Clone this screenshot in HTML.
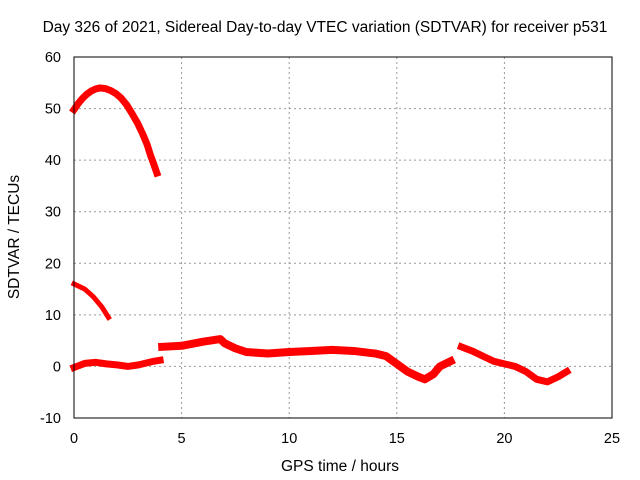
<!DOCTYPE html>
<html><head><meta charset="utf-8"><style>
body{margin:0;background:#fff}
svg{display:block;font-family:"Liberation Sans",sans-serif}
</style></head><body>
<svg id="c" width="640" height="480">
<rect width="640" height="480" fill="#fff"/>
<text x="325" y="32" font-size="15.5" text-anchor="middle">Day 326 of 2021, Sidereal Day-to-day VTEC variation (SDTVAR) for receiver p531</text>
<text x="340" y="471" font-size="15.5" text-anchor="middle">GPS time / hours</text>
<text x="19" y="237" font-size="15.5" text-anchor="middle" transform="rotate(-90 19 237)">SDTVAR / TECUs</text>
<g id="grid"></g><g id="marks"></g>
<rect x="74" y="57" width="538" height="361" fill="none" stroke="#000"/>
</svg>
<script>
const xTicks=[0,5,10,15,20,25];
const yTicks=[-10,0,10,20,30,40,50,60];
const arcT=[0,0.2,0.4,0.6,0.8,1.0,1.2,1.45,1.7,1.95,2.2,2.45,2.7,2.95,3.2,3.4,3.55,3.7,3.85];
const arcV=[49.8,51,52,52.8,53.4,53.8,54,53.9,53.5,52.9,52,50.7,49,47.2,45,43,41,39.3,37.5];
const decT=[0,0.5,0.9,1.3,1.6];
const decV=[16,15,13.5,11.5,9.5];
const lowT=[0,0.5,1,1.5,2,2.5,3,3.7,4];
const lowV=[-0.2,0.6,0.8,0.5,0.3,0,0.3,1,1.2];
const midT=[4.1,5,6,6.8,7,7.5,8,9,10,11,12,13,14,14.5,15,15.5,16,16.3,16.7,17,17.5];
const midV=[3.8,4,4.8,5.3,4.5,3.5,2.8,2.5,2.8,3,3.2,3,2.5,2,0.5,-1,-2,-2.5,-1.5,0,1];
const lateT=[18,18.5,19,19.5,20,20.5,21,21.5,22,22.5,22.9];
const lateV=[3.8,3,2,1,0.5,0,-1,-2.5,-3,-2,-1];
const X=t=>74+t*538/25, Y=v=>418-(v+10)*361/70;
const ns='http://www.w3.org/2000/svg';
const g=document.getElementById('grid'), m=document.getElementById('marks');
function el(tag,a,p){const e=document.createElementNS(ns,tag);for(const k in a)e.setAttribute(k,a[k]);p.appendChild(e);return e;}
xTicks.forEach(t=>{
 if(t>0&&t<25){const l=el('line',{x1:X(t),x2:X(t),y1:57,y2:418,stroke:'#999','stroke-dasharray':'2,3'},g);
 
 }
 const tx=el('text',{x:X(t),y:443,'font-size':14.5,'text-anchor':'middle'},g);tx.textContent=t;
 
 
});
yTicks.forEach(v=>{
 if(v>-10&&v<60){const l=el('line',{x1:74,x2:612,y1:Y(v),y2:Y(v),stroke:'#999','stroke-dasharray':'2,3'},g);
 
 }
 const tx=el('text',{x:61,y:Y(v)+5,'font-size':14.5,'text-anchor':'end'},g);tx.textContent=v;
 
 
});
function series(T,V,name,w){
 const pts=T.map((t,i)=>X(t)+','+Y(V[i])).join(' ');
 const p=el('polyline',{points:pts,fill:'none',stroke:'#f00','stroke-width':w,'stroke-linejoin':'round','stroke-linecap':'square'},m);
 
 
}
series(arcT,arcV,'series-arc',7);
series(decT,decV,'series-decline',5);
series(lowT,lowV,'series-low',7);
series(midT,midV,'series-mid',8);
series(lateT,lateV,'series-late',7);
</script>
</body></html>
